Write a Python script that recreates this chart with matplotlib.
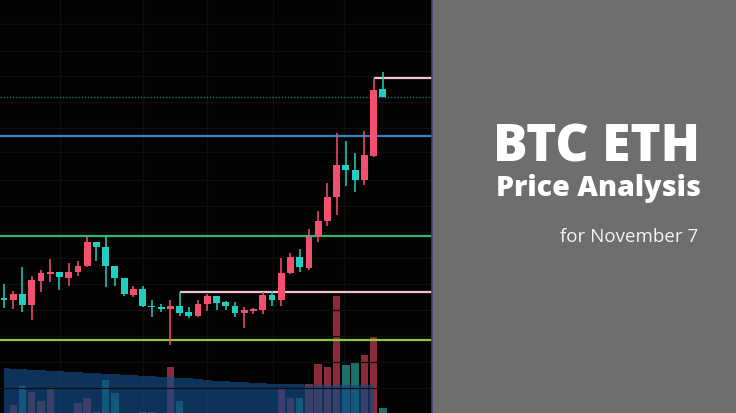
import numpy as np
import matplotlib.pyplot as plt

# candles (price units, hourly-ish bars)
opens = [115, 113, 119, 108, 132, 139, 141, 135, 141, 147, 171, 166, 147, 135, 118, 124,
         107, 106, 104, 107, 101, 97, 109, 117, 111, 107, 100, 102, 103, 118, 113, 140,
         156, 145, 176, 192, 216, 248, 243, 233, 257, 324]
highs = [129, 122, 146, 137, 143, 154, 141, 150, 152, 177, 171, 177, 147, 135, 127, 127,
         113, 109, 113, 121, 106, 113, 119, 117, 112, 111, 106, 105, 121, 122, 155, 160,
         164, 184, 202, 230, 280, 272, 260, 282, 335, 341]
lows = [105, 104, 101, 93, 121, 131, 123, 127, 137, 146, 152, 126, 127, 117, 116, 106,
        96, 101, 68, 97, 95, 96, 102, 103, 103, 96, 85, 99, 99, 107, 107, 139,
        141, 143, 171, 187, 198, 227, 221, 228, 256, 316]
closes = [113, 119, 108, 133, 140, 141, 136, 141, 147, 171, 166, 147, 135, 119, 124, 107,
          106, 104, 107, 100, 97, 109, 117, 110, 107, 100, 103, 104, 118, 113, 140, 156,
          146, 176, 192, 216, 248, 243, 233, 258, 323, 316]
volumes = [8, 19, 38, 32, 23, 36, 9, 10, 21, 26, 12, 44, 31, 8, 9, 12,
           12, 7, 57, 23, 8, 8, 8, 8, 9, 8, 9, 8, 9, 10, 36, 26,
           26, 40, 60, 57, 128, 59, 61, 69, 87, 16]
vol_ma = [56, 55.5, 55, 54.5, 54, 53.5, 53, 52.5, 52, 51.5, 51, 50.5, 50, 49.5, 49, 48.5,
          48, 47.5, 47, 46.5, 46, 45, 44.5, 43.5, 43, 42.5, 42, 41.5, 41, 40.5, 40, 40,
          40, 39.5, 39.5, 39.5, 39.5, 39, 39, 39, 39]

# drawn levels
last_price = 316
blue_level = 277
green_level = 177.5
pink_level = 121
lime_level = 73.5
top_level = 335

up_col = '#f2506e'
down_col = '#22cfbf'

fig = plt.figure(figsize=(7.36, 4.14), dpi=100)
fig.patch.set_facecolor('#6e6e6e')

rect = [0, 0, 432 / 736, 1]
axv = fig.add_axes(rect)
ax = fig.add_axes(rect)
axv.set_zorder(0)
ax.set_zorder(1)
ax.patch.set_visible(False)
axv.set_facecolor('#030303')

xlim = (-0.433, 46.32)
x = np.arange(len(opens))

# faint grid
for gx in [6.06, 15.04, 21.97, 29.11, 36.8]:
    axv.axvline(gx, color='#0f0f0f', lw=0.9, zorder=0)
for gy in [25, 51, 77, 103, 129, 155, 181, 207, 233, 261, 285, 311, 337, 362, 389]:
    ax.axhline(gy, color='#0f0f0f', lw=0.9, zorder=0)

# volume
vcols = ['#8c2a3a' if c >= o else '#1e6f6a' for o, c in zip(opens, closes)]
axv.bar(x, volumes, width=0.8, color=vcols, zorder=2)
axv.fill_between(np.arange(len(vol_ma)), 0, vol_ma, step='mid',
                 color='#124b86', alpha=0.67, lw=0, zorder=3)
axv.set_xlim(xlim)
axv.set_ylim(11, 425)

# levels
ax.axhline(last_price, color='#1f8a80', lw=0.9, ls=(0, (1, 1.5)), zorder=2)
ax.axhline(blue_level, color='#2c86c4', lw=1.6, zorder=2)
ax.axhline(green_level, color='#2bb673', lw=1.6, zorder=2)
ax.axhline(lime_level, color='#8dc63f', lw=1.6, zorder=2)
ax.hlines(pink_level, 19, xlim[1], color='#f3c4cf', lw=1.6, zorder=2)
ax.hlines(top_level, 40, xlim[1], color='#f3c4cf', lw=1.6, zorder=2)

# candles
for i in x:
    o, h, l, c = opens[i], highs[i], lows[i], closes[i]
    col = up_col if c >= o else down_col
    ax.vlines(i, l, h, color=col, lw=1.1, zorder=3)
    body = max(abs(c - o), 1.5)
    ax.bar(i, body, bottom=min(o, c), width=0.74, color=col, zorder=4)

ax.set_xlim(xlim)
ax.set_ylim(0, 414)
for a in (ax, axv):
    a.set_xticks([])
    a.set_yticks([])
    for s in a.spines.values():
        s.set_visible(False)

# right panel
fig.add_artist(plt.Line2D([432 / 736, 432 / 736], [0, 1], color='#4b3a72', lw=1.2))
fig.text(700 / 736, 1 - 162 / 414, 'BTC ETH', ha='right', va='baseline',
         color='white', fontsize=37, fontweight='heavy', family='Open Sans')
fig.text(701 / 736, 1 - 196 / 414, 'Price Analysis', ha='right', va='baseline',
         color='white', fontsize=20.5, fontweight='heavy', family='Open Sans')
fig.text(698 / 736, 1 - 242 / 414, 'for November 7', ha='right', va='baseline',
         color='#f4f4f4', fontsize=13.5, family='Open Sans')

fig.savefig('out.png', dpi=100, facecolor=fig.get_facecolor())
